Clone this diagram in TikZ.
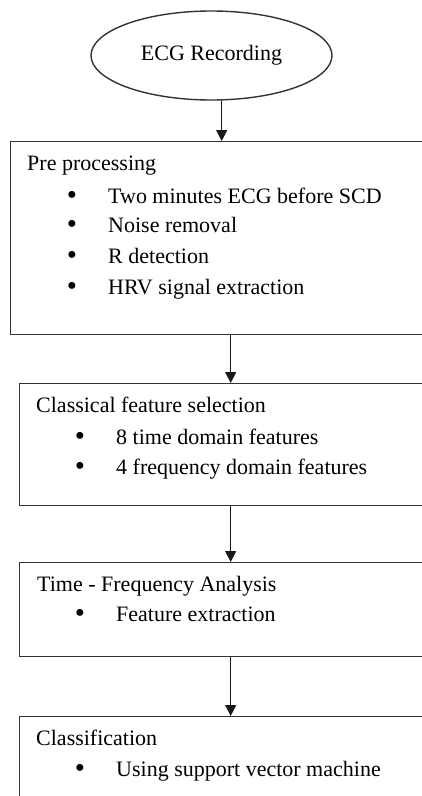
\documentclass[tikz,border=0pt]{standalone}
\usepackage{fontspec}
\setmainfont{Liberation Serif}
\usetikzlibrary{shapes.geometric,arrows.meta}
\begin{document}
\begin{tikzpicture}[x=1pt,y=-1pt,
  font=\fontsize{22}{26}\selectfont,
  boxstyle/.style={draw=black!80,line width=1.4pt,rectangle,inner sep=0pt,anchor=north west,minimum width=422pt},
  txt/.style={anchor=base west,inner sep=0pt,text=black},
  bul/.style={anchor=base,inner sep=0pt,font=\fontsize{29}{29}\selectfont},
  arr/.style={draw=black!90,line width=1.2pt,-{Triangle[width=11pt,length=11pt]}}]
\useasboundingbox (0,0) rectangle (422,796);
\clip (0,0) rectangle (422,796);
% ellipse
\node[ellipse,draw=black!80,line width=1.4pt,minimum width=241pt,minimum height=89pt,inner sep=0pt] (ell) at (211.5,55.5) {ECG Recording};
% boxes
\node[boxstyle,minimum height=193pt] (box1) at (10,141) {};
\node[boxstyle,minimum height=122pt] (box2) at (19,383) {};
\node[boxstyle,minimum height=94pt] (box3) at (19,562) {};
\node[boxstyle,minimum height=120pt] (box4) at (19,716) {};
% box 1 text
\node[txt] (t1) at (27,170.5) {Pre processing};
\node[bul] (b11) at (72,204) {•};
\node[txt] (i11) at (108,203) {Two minutes ECG before SCD};
\node[bul] (b12) at (72,233) {•};
\node[txt] (i12) at (108,232) {Noise removal};
\node[bul] (b13) at (72,264) {•};
\node[txt] (i13) at (108,263) {R detection};
\node[bul] (b14) at (72,295) {•};
\node[txt] (i14) at (108,294) {HRV signal  extraction};
% box 2 text
\node[txt] (t2) at (36,412.5) {Classical feature selection};
\node[bul] (b21) at (80,445) {•};
\node[txt] (i21) at (116,444) {8 time domain features};
\node[bul] (b22) at (80,475) {•};
\node[txt] (i22) at (116,474) {4 frequency domain features};
% box 3 text
\node[txt] (t3) at (37,591.5) {Time - Frequency Analysis};
\node[bul] (b31) at (80,622.5) {•};
\node[txt] (i31) at (116,621.5) {Feature extraction};
% box 4 text
\node[txt] (t4) at (36,745) {Classification};
\node[bul] (b41) at (80,777) {•};
\node[txt] (i41) at (116,776) {Using support vector machine};
% arrows
\draw[arr] (ell.south -| box1.north) -- (box1.north);
\draw[arr] (box1.south -| box2.north) -- (box2.north);
\draw[arr] (box2.south) -- (box3.north);
\draw[arr] (box3.south) -- (box4.north);
\end{tikzpicture}
\end{document}
